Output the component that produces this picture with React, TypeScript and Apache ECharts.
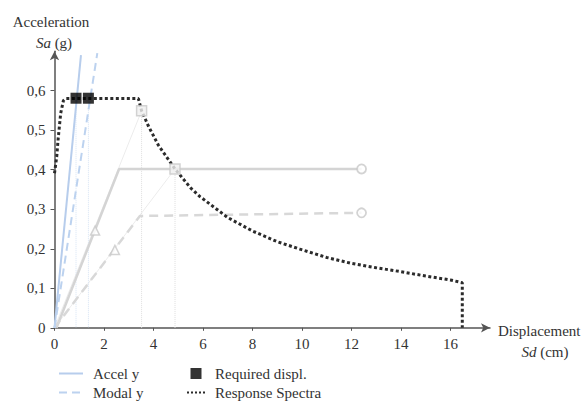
import React, { useEffect, useRef } from "react";
import * as echarts from "echarts";

// ---- data ----
const xTicks = [0, 2, 4, 6, 8, 10, 12, 14, 16];
const yTicks = [0, 0.1, 0.2, 0.3, 0.4, 0.5, 0.6];

const accelY = [[0, 0], [1.07, 0.69]];
const modalY = [[0, 0], [1.73, 0.695]];
const requiredDispl = [[0.87, 0.581], [1.37, 0.581]];
const responseSpectra = [
  [0, 0.391], [0.09, 0.433], [0.15, 0.48], [0.25, 0.543], [0.36, 0.575], [0.45, 0.58],
  [3.39, 0.58], [3.52, 0.549], [3.8, 0.51], [4.2, 0.462], [4.87, 0.402], [5.5, 0.354],
  [5.88, 0.332], [7, 0.279], [8, 0.245], [9, 0.218], [9.92, 0.199], [11, 0.178],
  [12, 0.163], [13, 0.152], [14, 0.142], [15, 0.131], [16, 0.121], [16.48, 0.114], [16.48, 0],
];
const capacityAccel = [[0.08, 0], [2.61, 0.402], [12.41, 0.402]];
const capacityModal = [[0, 0], [3.45, 0.283], [12.41, 0.291]];
const triangleAccel = [[1.64, 0.246]];
const triangleModal = [[2.44, 0.197]];
const capacityEnds = [[12.41, 0.402], [12.41, 0.291]];
const perfPoints = [[3.52, 0.549], [4.87, 0.402]];
const demandLine1 = [[0, 0], [3.52, 0.549]];
const demandLine2 = [[0, 0], [4.87, 0.402]];
const dropBlue1 = [[0.87, 0.581], [0.87, 0]];
const dropBlue2 = [[1.37, 0.581], [1.37, 0]];
const dropGray1 = [[3.52, 0.549], [3.52, 0]];
const dropGray2 = [[4.87, 0.402], [4.87, 0]];

const FONT = "Liberation Serif";
const TXT = "#333333";

export default function App() {
  const ref = useRef<HTMLDivElement>(null);
  useEffect(() => {
    if (!ref.current) return;
    const chart = echarts.init(ref.current, undefined, { renderer: "svg" });
    const fmt = (v: number) => String(Math.round(v * 10) / 10).replace(".", ",");
    const thin = (name: string, data: number[][], color: string, type: any = "solid") => ({
      name, type: "line", data, symbol: "none", silent: true, z: 1,
      lineStyle: { color, width: 1, type },
    });
    const hideSym = { opacity: 0 };
    const txt = (text: string, x: number, y: number, align: string) => ({
      type: "text", x, y,
      style: {
        text, fontFamily: FONT, fontSize: 15, fill: TXT, align, verticalAlign: "middle",
        rich: { i: { fontStyle: "italic", fontFamily: FONT, fontSize: 15, fill: TXT } },
      },
    });
    chart.setOption({
      animation: false,
      textStyle: { fontFamily: FONT },
      grid: { left: 54.5, right: 95, top: 51.2, bottom: 73.2, containLabel: false },
      xAxis: {
        type: "value", min: 0, max: 17.6, interval: 2,
        axisLine: { lineStyle: { color: "#555", width: 1.5 }, symbol: ["none", "arrow"], symbolSize: [7, 9] },
        axisTick: { show: true, length: 3, lineStyle: { color: "#555" }, customValues: xTicks },
        axisLabel: {
          customValues: xTicks, margin: 9, color: TXT, fontFamily: FONT, fontSize: 15,
          formatter: (v: number) => (xTicks.indexOf(v) >= 0 ? fmt(v) : ""),
        },
        splitLine: { show: false },
      },
      yAxis: {
        type: "value", min: 0, max: 0.7, interval: 0.1,
        axisLine: { show: true, lineStyle: { color: "#555", width: 1.5 }, symbol: ["none", "arrow"], symbolSize: [7, 9] },
        axisTick: { show: true, length: 4, lineStyle: { color: "#555" }, customValues: yTicks },
        axisLabel: {
          customValues: yTicks, margin: 9, color: TXT, fontFamily: FONT, fontSize: 15,
          formatter: (v: number) => (v <= 0.65 ? fmt(v) : ""),
        },
        splitLine: { show: false },
      },
      legend: [
        {
          data: [
            { name: "Accel y", itemStyle: hideSym },
            { name: "Modal y", itemStyle: hideSym },
          ],
          orient: "vertical", left: 58, top: 366, padding: 0,
          itemWidth: 24, itemHeight: 10, itemGap: 4,
          textStyle: { color: TXT, fontFamily: FONT, fontSize: 15, padding: [0, 0, 0, 5] },
        },
        {
          data: [
            { name: "Required displ.", icon: "path://M0,0L10,0L10,10L0,10Z" },
            { name: "Response Spectra", itemStyle: hideSym, lineStyle: { width: 2, type: [2, 2], color: "#2b2b2b" } },
          ],
          orient: "vertical", left: 186, top: 366, padding: 0,
          itemWidth: 18, itemHeight: 11, itemGap: 4,
          textStyle: { color: TXT, fontFamily: FONT, fontSize: 15, padding: [0, 0, 0, 5] },
        },
      ],
      graphic: [
        txt("Acceleration", 51, 22, "center"),
        txt("{i|Sa} (g)", 54, 43, "center"),
        txt("Displacement", 498, 331, "left"),
        txt("{i|Sd} (cm)", 545, 352, "center"),
      ],
      series: [
        thin("d1", demandLine1, "#ececec"),
        thin("d2", demandLine2, "#ececec"),
        thin("v1", dropBlue1, "#d6e3f4", "dotted"),
        thin("v2", dropBlue2, "#d6e3f4", "dotted"),
        thin("v3", dropGray1, "#dedede", "dotted"),
        thin("v4", dropGray2, "#dedede", "dotted"),
        {
          name: "capA", type: "line", data: capacityAccel, symbol: "none", z: 2,
          lineStyle: { color: "#d4d4d4", width: 2.5 },
        },
        {
          name: "capM", type: "line", data: capacityModal, symbol: "none", z: 2,
          lineStyle: { color: "#d8d8d8", width: 2.5, type: [9, 6] },
        },
        {
          name: "Accel y", type: "line", data: accelY, symbol: "none", z: 3,
          color: "#b7cdec", lineStyle: { color: "#b7cdec", width: 2 },
        },
        {
          name: "Modal y", type: "line", data: modalY, symbol: "none", z: 3,
          color: "#bcd2ef", lineStyle: { color: "#bcd2ef", width: 2, type: [8, 5] },
        },
        {
          name: "Response Spectra", type: "line", data: responseSpectra, symbol: "none", z: 4,
          color: "#2b2b2b", lineStyle: { color: "#2b2b2b", width: 3, type: [3, 2.5] },
        },
        {
          name: "triA", type: "scatter", data: triangleAccel, symbol: "triangle", symbolSize: 9, z: 5,
          itemStyle: { color: "#ffffff", borderColor: "#c8c8c8", borderWidth: 1.5 },
        },
        {
          name: "triM", type: "scatter", data: triangleModal, symbol: "triangle", symbolSize: 9, z: 5,
          itemStyle: { color: "#ffffff", borderColor: "#c8c8c8", borderWidth: 1.5 },
        },
        {
          name: "ends", type: "scatter", data: capacityEnds, symbol: "circle", symbolSize: 9, z: 5,
          itemStyle: { color: "#ffffff", borderColor: "#c8c8c8", borderWidth: 1.8 },
        },
        {
          name: "perf", type: "scatter", data: perfPoints, symbol: "rect", symbolSize: 10, z: 5,
          itemStyle: { color: "#f0f0f0", borderColor: "#c8c8c8", borderWidth: 1.5 },
        },
        {
          name: "Required displ.", type: "scatter", data: requiredDispl, symbol: "rect", symbolSize: 11, z: 6,
          color: "#000000", itemStyle: { color: "#000000" },
        },
      ],
    });
    return () => chart.dispose();
  }, []);
  return <div ref={ref} style={{ position: "absolute", left: 0, top: 0, width: 585, height: 401 }} />;
}
